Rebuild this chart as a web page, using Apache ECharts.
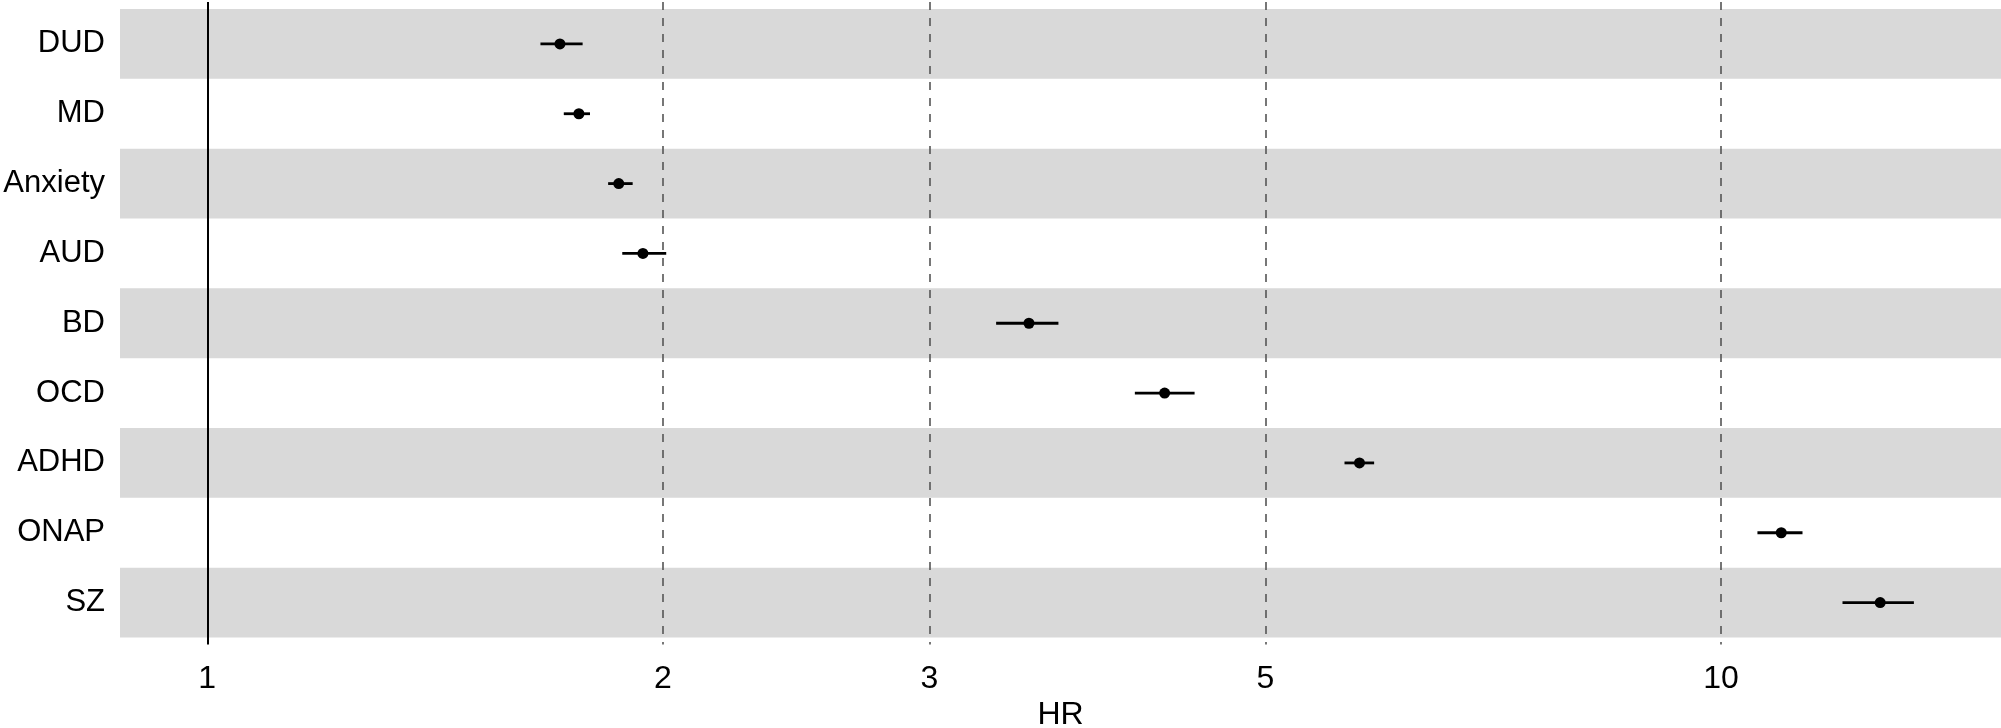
<!DOCTYPE html>
<html>
<head>
<meta charset="utf-8">
<script src="https://cdn.jsdelivr.net/npm/echarts@6/dist/echarts.min.js"></script>
<style>
  html, body { margin: 0; padding: 0; background: #fff; }
  #chart { width: 2001px; height: 728px; }
</style>
</head>
<body>
<div id="chart"></div>
<script>
const categories = ['DUD', 'MD', 'Anxiety', 'AUD', 'BD', 'OCD', 'ADHD', 'ONAP', 'SZ']
const hr = [1.71, 1.76, 1.87, 1.94, 3.49, 4.29, 5.77, 10.96, 12.74]
const lower = [1.66, 1.72, 1.84, 1.88, 3.32, 4.10, 5.64, 10.57, 12.03]
const upper = [1.77, 1.79, 1.91, 2.01, 3.65, 4.49, 5.90, 11.32, 13.41]
const tickValues = [1, 2, 3, 5, 10]
const refValue = 1
const dashedValues = [2, 3, 5, 10]

const font = 'Liberation Sans, Arial, sans-serif'
const yMin = -0.6
const yMax = categories.length - 1 + 0.6

let chart = echarts.init(document.getElementById('chart'), null, { renderer: 'canvas' })

// grey bands on every other row
let bands = []
categories.forEach((c, i) => {
  if (i % 2 === 0) bands.push([{ yAxis: i - 0.5 }, { yAxis: i + 0.5 }])
})

let option = {
  animation: false,
  backgroundColor: '#fff',
  grid: { left: 120, right: 0, top: 2, bottom: 83.5, containLabel: false, outerBoundsMode: 'none' },
  xAxis: {
    type: 'log',
    logBase: 10,
    min: 0.8757,
    max: 15.31,
    name: 'HR',
    nameLocation: 'middle',
    nameGap: 55,
    nameTextStyle: { fontSize: 32, color: '#000', fontFamily: font },
    axisLine: { show: false },
    axisTick: { show: false },
    axisLabel: { show: false },
    splitLine: { show: false }
  },
  yAxis: {
    type: 'value',
    inverse: true,
    min: yMin,
    max: yMax,
    axisLine: { show: false },
    axisTick: { show: false },
    splitLine: { show: false },
    axisLabel: {
      customValues: categories.map((c, i) => i),
      formatter: v => categories[v],
      fontSize: 31,
      color: '#000',
      fontFamily: font,
      margin: 15,
      padding: [16, 0, 0, 0]
    }
  },
  series: [
    {
      type: 'line',
      data: [],
      z: 1,
      silent: true,
      markArea: {
        silent: true,
        itemStyle: { color: '#d9d9d9' },
        data: bands
      }
    },
    {
      type: 'line',
      data: [],
      z: 2,
      silent: true,
      markLine: {
        silent: true,
        symbol: 'none',
        label: { show: false },
        data: [
          { xAxis: refValue, lineStyle: { color: '#000', type: 'solid', width: 2 } }
        ].concat(dashedValues.map(v => ({
          xAxis: v,
          lineStyle: { color: '#555', type: [8, 8], width: 1.6 }
        })))
      }
    },
    {
      type: 'custom',
      z: 3,
      silent: true,
      data: categories.map((c, i) => [lower[i], upper[i], i]),
      renderItem: (params, api) => {
        let p1 = api.coord([api.value(0), api.value(2)])
        let p2 = api.coord([api.value(1), api.value(2)])
        return {
          type: 'line',
          shape: { x1: p1[0], y1: p1[1], x2: p2[0], y2: p2[1] },
          style: { stroke: '#000', lineWidth: 2.8 }
        }
      }
    },
    {
      type: 'scatter',
      z: 4,
      silent: true,
      symbol: 'circle',
      symbolSize: 11,
      itemStyle: { color: '#000', opacity: 1 },
      data: categories.map((c, i) => [hr[i], i])
    },
    {
      // x tick labels
      type: 'scatter',
      z: 4,
      silent: true,
      clip: false,
      symbolSize: 0,
      itemStyle: { opacity: 1 },
      data: tickValues.map(v => [v, yMax]),
      label: {
        show: true,
        position: 'bottom',
        distance: 19,
        formatter: p => String(p.value[0]),
        fontSize: 32,
        color: '#000',
        fontFamily: font
      }
    }
  ]
}

chart.setOption(option)
</script>
</body>
</html>
